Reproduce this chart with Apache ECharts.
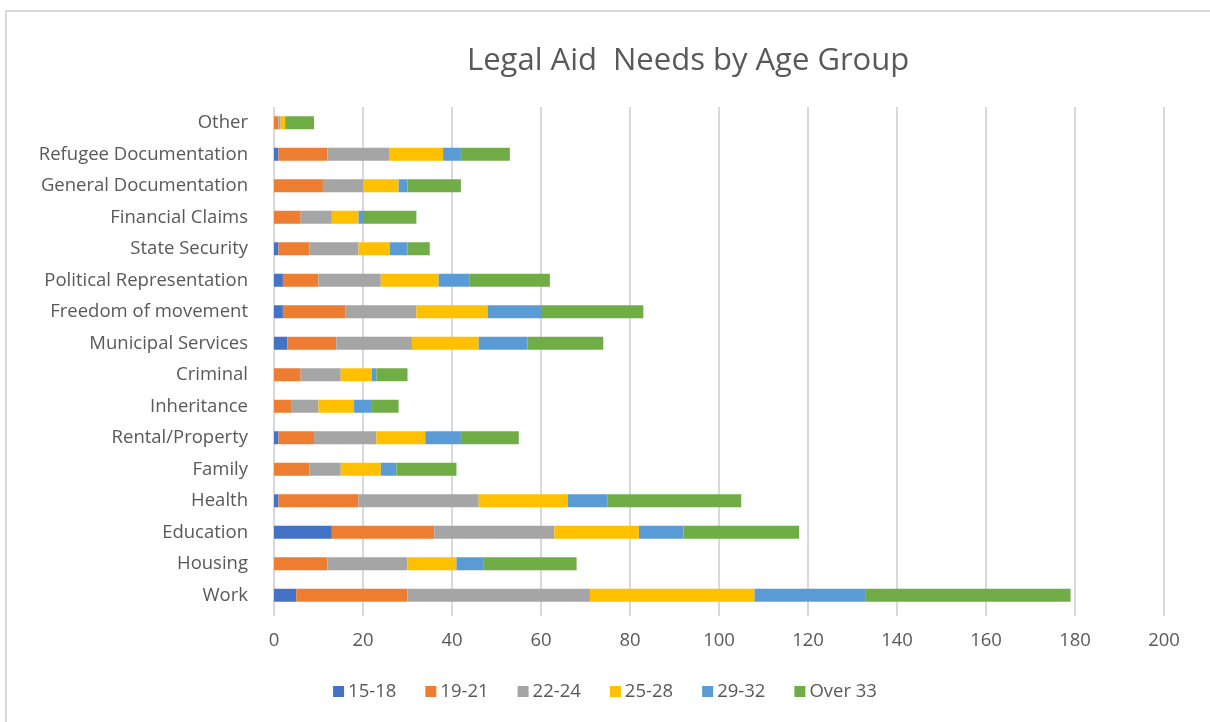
<!DOCTYPE html>
<html>
<head>
<meta charset="utf-8">
<script src="https://cdn.jsdelivr.net/npm/echarts@6/dist/echarts.min.js"></script>
<style>
html,body{margin:0;padding:0;background:#fff;}
#c{width:1210px;height:722px;}
</style>
</head>
<body>
<div id="c"></div>
<script>
// Categories listed bottom to top
const categories = ["Work","Housing","Education","Health","Family","Rental/Property","Inheritance","Criminal","Municipal Services","Freedom of movement","Political Representation","State Security","Financial Claims","General Documentation","Refugee Documentation","Other"];
const seriesNames = ["15-18","19-21","22-24","25-28","29-32","Over 33"];
const age15_18 = [5, 0, 13, 1, 0, 1, 0, 0, 3, 2, 2, 1, 0, 0, 1, 0];
const age19_21 = [25, 12, 23, 18, 8, 8, 4, 6, 11, 14, 8, 7, 6, 11, 11, 1];
const age22_24 = [41, 18, 27, 27, 7, 14, 6, 9, 17, 16, 14, 11, 7, 9, 14, 0.5];
const age25_28 = [37, 11, 19, 20, 9, 11, 8, 7, 15, 16, 13, 7, 6, 8, 12, 1];
const age29_32 = [25, 6, 10, 9, 3.5, 8, 4, 1, 11, 12, 7, 4, 1, 2, 4, 0];
const over33 = [46, 21, 26, 30, 13.5, 13, 6, 7, 17, 23, 18, 5, 12, 12, 11, 6.5];
const xTicks = [0, 20, 40, 60, 80, 100, 120, 140, 160, 180, 200];
const colors = ["#4472C4","#ED7D31","#A5A5A5","#FFC000","#5B9BD5","#70AD47"];

const allValues = [age15_18, age19_21, age22_24, age25_28, age29_32, over33];
const FONT = "'Open Sans', 'Noto Sans', sans-serif";

const chart = echarts.init(document.getElementById('c'), null, {renderer: 'canvas'});
chart.setOption({
  animation: false,
  backgroundColor: '#ffffff',
  color: colors,
  graphic: [{
    type: 'rect',
    shape: {x: 6, y: 11, width: 1230, height: 740},
    style: {fill: 'none', stroke: '#d9d9d9', lineWidth: 2},
    silent: true, z: -1
  }],
  title: {
    text: 'Legal Aid  Needs by Age Group',
    left: 462,
    top: 41,
    textStyle: {fontFamily: FONT, fontSize: 31, fontWeight: 'normal', color: '#595959'}
  },
  legend: {
    data: seriesNames,
    bottom: 16,
    left: 'center',
    itemWidth: 11,
    itemHeight: 11,
    itemGap: 29,
    icon: 'rect',
    textStyle: {fontFamily: FONT, fontSize: 18.5, color: '#595959', padding: [0, 0, 0, -1]}
  },
  grid: {left: 274, right: 46, top: 107, bottom: 111, containLabel: false},
  xAxis: {
    type: 'value',
    min: xTicks[0],
    max: xTicks[xTicks.length - 1],
    interval: xTicks[1] - xTicks[0],
    axisLine: {show: false},
    axisTick: {show: true, length: 5, lineStyle: {color: '#d9d9d9', width: 2}},
    splitLine: {show: true, lineStyle: {color: '#d9d9d9', width: 2}},
    axisLabel: {fontFamily: FONT, fontSize: 18.5, color: '#595959', margin: 20}
  },
  yAxis: {
    type: 'category',
    data: categories,
    axisLine: {show: false},
    axisTick: {show: false},
    axisLabel: {fontFamily: FONT, fontSize: 18.5, color: '#595959', margin: 26}
  },
  series: seriesNames.map((name, i) => ({
    name: name,
    type: 'bar',
    stack: 'total',
    barWidth: 13,
    data: allValues[i],
    itemStyle: {color: colors[i]}
  }))
});
</script>
</body>
</html>
